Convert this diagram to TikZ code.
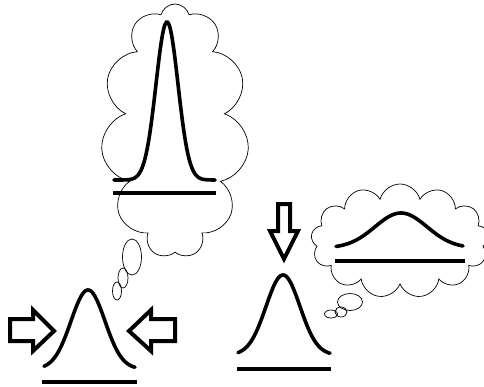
\documentclass[tikz,border=0pt]{standalone}
\usepackage{tikz}
\usetikzlibrary{shapes.symbols}

% bell curve: mean, baseline, height, sigma, from, to
\newcommand{\gausscurve}[6]{%
  \draw[bell] plot[domain=#5:#6, samples=80, smooth]
    (\x, {#2 - #3*exp(-((\x-#1)^2)/(2*#4*#4))});}

\begin{document}
\begin{tikzpicture}[x=1pt, y=-1pt,
                thought/.style={cloud, draw, line width=0.7pt, inner sep=0pt},
                bubble/.style={draw, line width=0.7pt},
                bell/.style={line width=3.6pt, line cap=round},
                baseline/.style={line width=3.6pt},
                fatarrow/.style={draw, fill=white, line width=4pt, line join=miter}]
                \useasboundingbox (0,0) rectangle (484,386);
                % thought clouds and their trailing bubbles
                \node[thought, cloud puffs=11, aspect=0.6, minimum width=148pt, minimum height=254pt]
                    (narrowcloud) at (175,131) {};
                \node[thought, cloud puffs=13, aspect=1.55, minimum width=178pt, minimum height=114pt]
                    (widecloud) at (400,241) {};
                \draw[bubble] (132,257) ellipse (9.5 and 18);
                \draw[bubble] (123,278) ellipse (5 and 10);
                \draw[bubble] (117,291) ellipse (4.5 and 9);
                \draw[bubble] (350,302) ellipse (12.5 and 8.5);
                \draw[bubble] (341,312) ellipse (6 and 5);
                \draw[bubble] (331,314) ellipse (6.5 and 4);
                % distributions
                \gausscurve{167}{180}{158}{11}{114}{215}
                \draw[baseline] (113,193) -- (216,193);
                \gausscurve{401}{248}{35}{26}{336}{463}
                \draw[baseline] (335,261) -- (465,261);
                \gausscurve{88}{369}{79}{17}{44}{135}
                \draw[baseline] (42,382) -- (137,382);
                \gausscurve{283}{355}{80}{17}{238}{330}
                \draw[baseline] (237,369) -- (331,369);
                % squeezing arrows
                \path[fatarrow] (10,319) -- (33,319) -- (33,310) -- (54,331)
                    -- (33,351) -- (33,341) -- (10,341) -- cycle;
                \path[fatarrow] (175,319) -- (151,319) -- (151,310) -- (129,331)
                    -- (151,351) -- (151,341) -- (175,341) -- cycle;
                \path[fatarrow] (278,204) -- (290,204) -- (290,231) -- (298,231)
                    -- (284,259) -- (270,231) -- (278,231) -- cycle;
\end{tikzpicture}
\end{document}
